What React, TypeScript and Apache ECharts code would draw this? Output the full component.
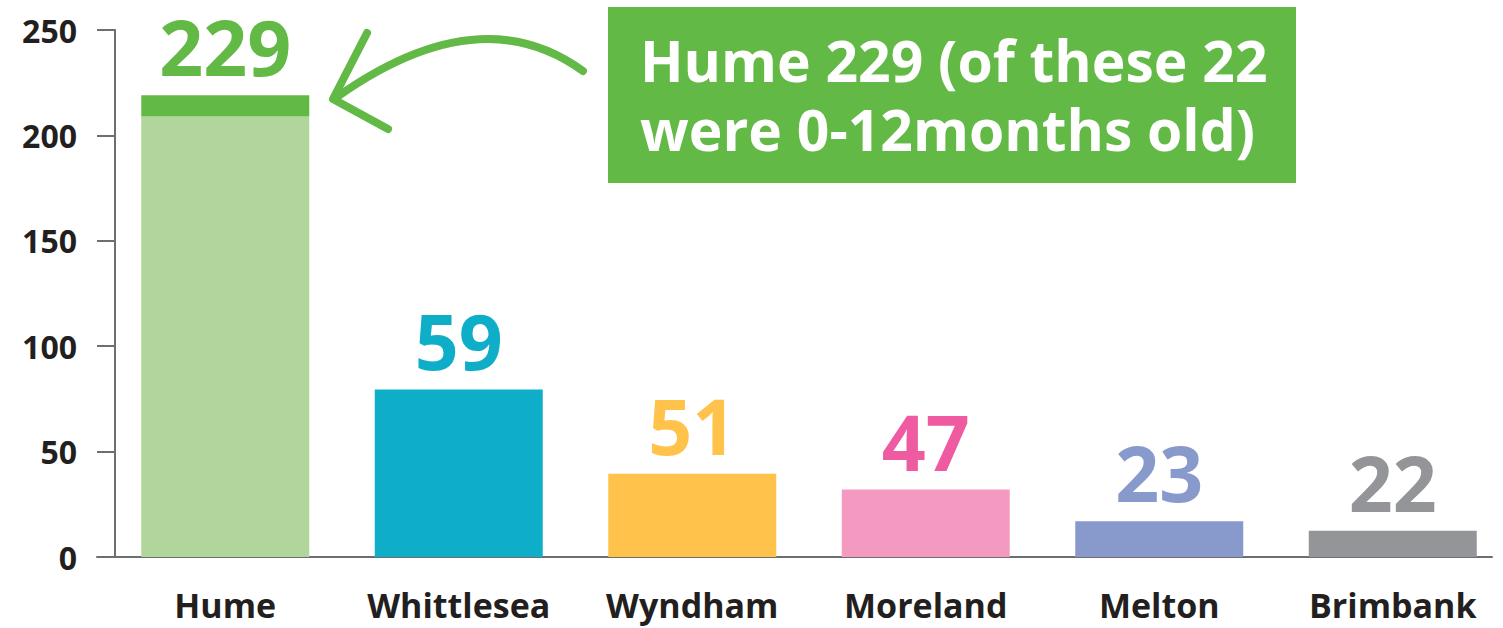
import React, { useEffect, useRef } from "react";
import * as echarts from "echarts";

const categories = ["Hume", "Whittlesea", "Wyndham", "Moreland", "Melton", "Brimbank"];
// bar heights as drawn in the picture
const baseValues = [209, 79.5, 39.5, 32, 17, 12.5];
// extra top segment (Hume only: those 0-12 months old)
const topValues: (number | string)[] = [10, "-", "-", "-", "-", "-"];
const labelTexts = ["229", "59", "51", "47", "23", "22"];
const barColors = ["#b0d69c", "#0eaec9", "#ffc34c", "#f49ac1", "#8899cc", "#939598"];
const labelColors = ["#62b946", "#0eaec9", "#ffc34c", "#ef5ba0", "#8899cc", "#939598"];
const topColor = "#62b946";
const yTicks = { min: 0, max: 250, interval: 50 };
const noteLines = ["Hume 229 (of these 22", "were 0-12months old)"];

const FONT = "'Open Sans', 'DejaVu Sans', sans-serif";
const TEXT = "#231f20";
const AXIS = "#6d6e71";

export default function App() {
  const ref = useRef<HTMLDivElement>(null);
  useEffect(() => {
    if (!ref.current) return;
    const chart = echarts.init(ref.current, null, { renderer: "svg" });
    const labelStyle = (i: number) => ({
      show: true,
      position: "top",
      distance: 10,
      formatter: () => labelTexts[i],
      color: labelColors[i],
      fontFamily: FONT,
      fontWeight: "bold",
      fontSize: 77,
    });
    chart.setOption({
      animation: false,
      backgroundColor: "#ffffff",
      grid: [
        { left: 108.5, width: 1401, top: 30, bottom: 71, containLabel: false, outerBoundsMode: "none" },
        { left: 97, width: 1395, top: 30, bottom: 71, containLabel: false, outerBoundsMode: "none" },
      ],
      xAxis: [
        {
          type: "category",
          gridIndex: 0,
          data: categories,
          axisLine: { show: false },
          axisTick: { show: false },
          axisLabel: {
            interval: 0,
            color: TEXT,
            fontFamily: FONT,
            fontWeight: "bold",
            fontSize: 34,
            lineHeight: 34,
            margin: 31,
          },
        },
        {
          type: "value",
          gridIndex: 1,
          min: 0,
          max: 1,
          axisLine: { show: true, lineStyle: { color: AXIS, width: 2 } },
          axisTick: { show: false },
          axisLabel: { show: false },
          splitLine: { show: false },
        },
      ],
      yAxis: [
        {
          type: "value",
          gridIndex: 0,
          min: yTicks.min,
          max: yTicks.max,
          interval: yTicks.interval,
          show: false,
        },
        {
          type: "value",
          gridIndex: 1,
          min: yTicks.min,
          max: yTicks.max,
          interval: yTicks.interval,
          offset: -18,
          axisLine: { show: true, lineStyle: { color: AXIS, width: 2 } },
          axisTick: { show: true, length: 18, lineStyle: { color: AXIS, width: 2 } },
          axisLabel: {
            color: TEXT,
            fontFamily: FONT,
            fontWeight: "bold",
            fontSize: 32,
            margin: 38,
          },
          splitLine: { show: false },
        },
      ],
      series: [
        {
          type: "bar",
          xAxisIndex: 0,
          yAxisIndex: 0,
          stack: "total",
          barWidth: 168,
          data: baseValues.map((v, i) => ({
            value: v,
            itemStyle: { color: barColors[i] },
            label: i === 0 ? { show: false } : labelStyle(i),
          })),
        },
        {
          type: "bar",
          xAxisIndex: 0,
          yAxisIndex: 0,
          stack: "total",
          barWidth: 168,
          data: topValues.map((v, i) => ({
            value: v,
            itemStyle: { color: topColor },
            label: i === 0 ? labelStyle(0) : { show: false },
          })),
        },
      ],
      graphic: [
        {
          type: "rect",
          shape: { x: 608, y: 7, width: 688, height: 176 },
          style: { fill: "#62b946" },
        },
        {
          type: "text",
          x: 640,
          y: 60,
          style: {
            text: noteLines[0],
            fill: "#ffffff",
            font: `bold 57px ${FONT}`,
            textAlign: "left",
            textVerticalAlign: "middle",
          },
        },
        {
          type: "text",
          x: 640,
          y: 129,
          style: {
            text: noteLines[1],
            fill: "#ffffff",
            font: `bold 57px ${FONT}`,
            textAlign: "left",
            textVerticalAlign: "middle",
          },
        },
        {
          type: "bezierCurve",
          shape: { x1: 583, y1: 71, x2: 337, y2: 97, cpx1: 480, cpy1: -4 },
          style: { stroke: "#62b946", lineWidth: 8, fill: null, lineCap: "round" },
        },
        {
          type: "polyline",
          shape: { points: [[367, 33], [333, 99], [388, 129]] },
          style: { stroke: "#62b946", lineWidth: 8, fill: null, lineCap: "round", lineJoin: "round" },
        },
      ],
    });
    return () => chart.dispose();
  }, []);
  return (
    <div
      ref={ref}
      style={{ position: "absolute", left: 0, top: 0, width: 1503, height: 628 }}
    />
  );
}
